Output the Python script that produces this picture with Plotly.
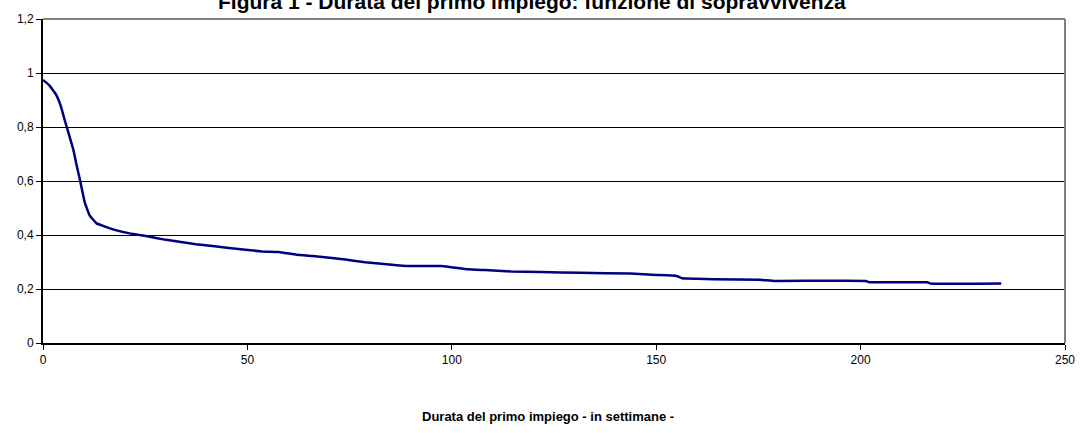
import plotly.graph_objects as go

# Survival function (weeks, survival probability)
weeks = [0, 0.5, 1.5, 3.2, 4.3, 5.3, 6.4, 7.4, 8.2, 9.0, 10.2, 11.4, 13.1, 15, 17.1,
         21.2, 25.2, 30.1, 37.4, 45.5, 53.6, 57.7, 62, 66, 70.7, 74, 78.8, 84,
         89.3, 97.5, 103.9, 108, 114.5, 121.8, 131.5, 143.7, 150, 155, 156.3,
         160, 164, 175.3, 179, 201.3, 202.1, 216.3, 217.1, 234.4]
survival = [0.974, 0.968, 0.955, 0.92, 0.88, 0.826, 0.77, 0.717, 0.66, 0.607, 0.522,
            0.473, 0.443, 0.432, 0.421, 0.406, 0.396, 0.382, 0.366, 0.352, 0.339,
            0.337, 0.327, 0.322, 0.315, 0.309, 0.299, 0.292, 0.285, 0.285, 0.273,
            0.270, 0.265, 0.263, 0.260, 0.257, 0.252, 0.248, 0.240, 0.238, 0.236,
            0.234, 0.230, 0.230, 0.225, 0.225, 0.220, 0.220]

x_ticks = [0, 50, 100, 150, 200, 250]
x_tick_labels = ["0", "50", "100", "150", "200", "250"]
y_ticks = [0, 0.2, 0.4, 0.6, 0.8, 1.0, 1.2]
y_tick_labels = ["0", "0,2", "0,4", "0,6", "0,8", "1", "1,2"]

title_text = "Figura 1 - Durata del primo impiego: funzione di sopravvivenza"
x_title_text = "Durata del primo impiego - in settimane -"

FONT = "Liberation Sans, Arial, sans-serif"

fig = go.Figure()
fig.add_trace(go.Scatter(
    x=weeks, y=survival, mode="lines",
    line=dict(color="#000080", width=2.5, shape="spline", smoothing=0.3),
    hoverinfo="skip", showlegend=False,
))

fig.update_layout(
    width=1087, height=433,
    margin=dict(l=43, r=17, t=15, b=90),
    paper_bgcolor="white", plot_bgcolor="white",
    font=dict(family=FONT, color="black", size=12),
    showlegend=False,
    xaxis=dict(
        range=[0, 250], tickvals=x_ticks, ticktext=x_tick_labels,
        showgrid=False, zeroline=False,
        showline=True, linecolor="black", linewidth=2,
        ticks="outside", ticklen=5, tickcolor="black", tickwidth=1,
        tickfont=dict(size=12, family=FONT),
    ),
    yaxis=dict(
        range=[0, 1.2], tickvals=y_ticks, ticktext=y_tick_labels,
        showgrid=True, gridcolor="black", gridwidth=1,
        zeroline=False,
        showline=True, linecolor="black", linewidth=2,
        ticks="outside", ticklen=5, tickcolor="black", tickwidth=1,
        tickfont=dict(size=12, family=FONT),
    ),
    shapes=[
        dict(type="line", xref="paper", yref="paper", x0=0, x1=1, y0=1, y1=1,
             line=dict(color="#808080", width=2), layer="above"),
        dict(type="line", xref="paper", yref="paper", x0=1, x1=1, y0=0, y1=1,
             line=dict(color="#808080", width=2), layer="above"),
    ],
    annotations=[
        dict(text="<b>" + title_text + "</b>", xref="paper", yref="paper",
             x=0.478, y=1.055, xanchor="center", yanchor="middle",
             showarrow=False, font=dict(size=21, family=FONT, color="black")),
        dict(text="<b>" + x_title_text + "</b>", xref="paper", yref="paper",
             x=0.494, y=-0.228, xanchor="center", yanchor="middle",
             showarrow=False, font=dict(size=13, family=FONT, color="black")),
    ],
)

fig.write_html(
    "out.html",
    config={"displayModeBar": False, "staticPlot": True},
    post_script="document.body.style.margin='0';document.body.style.overflow='hidden';",
)
